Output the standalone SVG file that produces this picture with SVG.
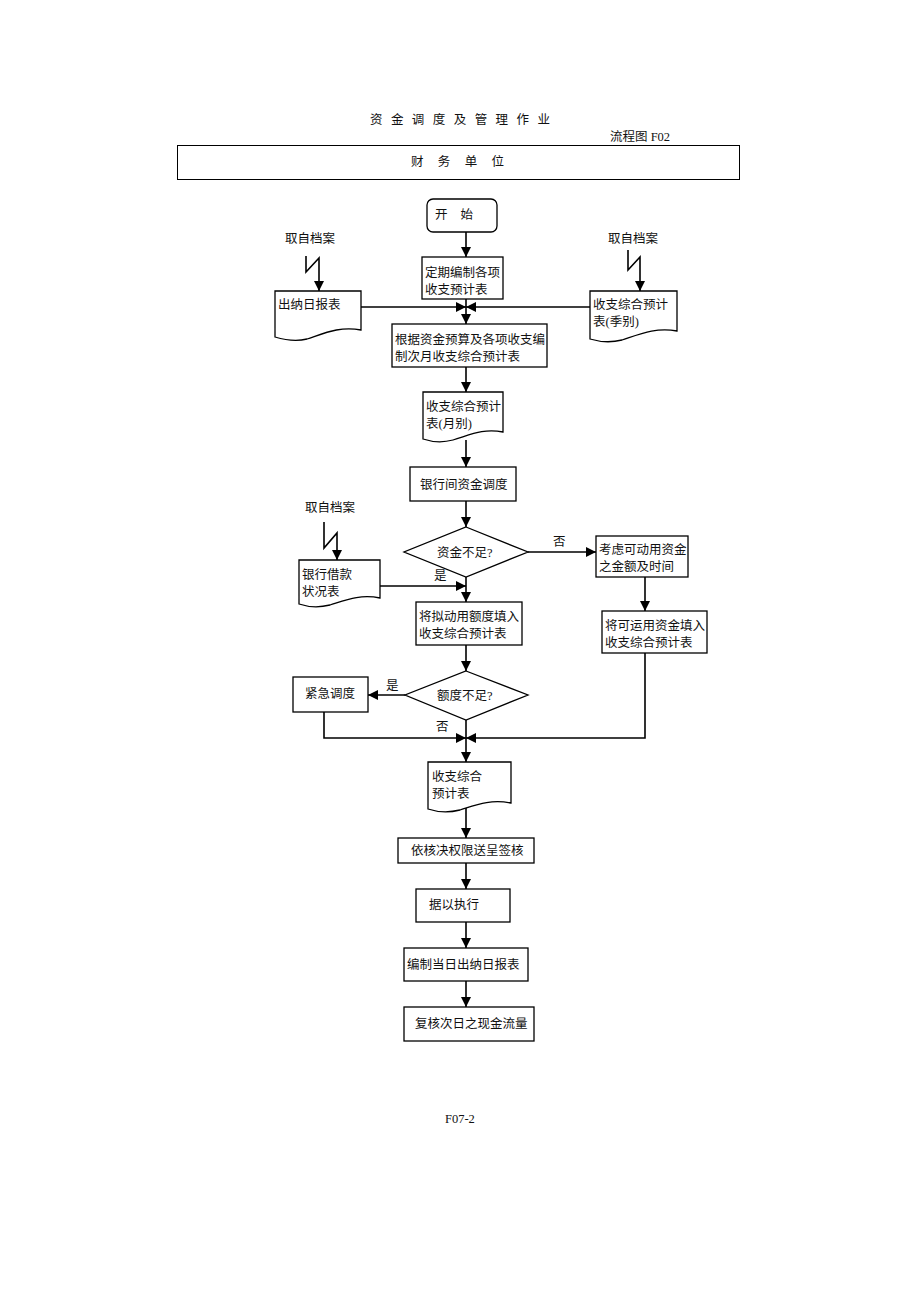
<svg xmlns="http://www.w3.org/2000/svg" width="920" height="1302" viewBox="0 0 920 1302">
<defs>
<marker id="ah" viewBox="0 0 10 10" refX="10" refY="5" markerWidth="10" markerHeight="10" markerUnits="userSpaceOnUse" orient="auto">
<path d="M0,0 L10,5 L0,10 z" fill="#000"/>
</marker>
</defs>
<style>
text{font-family:"Liberation Serif","Noto Sans CJK SC",serif;font-size:12.5px;fill:#111}
.b{fill:#fff;stroke:#000;stroke-width:1.3}
.c{fill:none;stroke:#000;stroke-width:1.6}
.a{marker-end:url(#ah)}
</style>
<rect width="920" height="1302" fill="#fff"/>
<g id="header">
<text x="370" y="124" textLength="180" lengthAdjust="spacing">资 金 调 度 及 管 理 作 业</text>
<text x="610" y="141">流程图 F02</text>
<rect x="177.5" y="145.5" width="562" height="34" fill="none" stroke="#000" stroke-width="1"/>
<text x="411" y="166" textLength="93" lengthAdjust="spacing">财 务 单 位</text>
</g>
<g id="start">
<rect class="b" x="427" y="199" width="70" height="33" rx="6"/>
<text x="435" y="219" textLength="38" lengthAdjust="spacing">开 始</text>
</g>
<g id="n1">
<rect class="b" x="422" y="257" width="81" height="42"/>
<text x="425" y="277">定期编制各项</text>
<text x="425" y="294">收支预计表</text>
</g>
<g id="src1"><text x="285" y="243">取自档案</text></g>
<g id="d1">
<path class="b" d="M275,291 H361 V330 C340,326 325,333 307,339 C295,342 285,340 275,337 Z"/>
<text x="278" y="309">出纳日报表</text>
</g>
<g id="src2"><text x="608" y="243">取自档案</text></g>
<g id="d2">
<path class="b" d="M590,291 H677 V331 C656,327 640,334 622,340 C610,343 600,342 590,339 Z"/>
<text x="593" y="309">收支综合预计</text>
<text x="593" y="326">表(季别)</text>
</g>
<g id="n2">
<rect class="b" x="392" y="324" width="155" height="43"/>
<text x="395" y="344">根据资金预算及各项收支编</text>
<text x="395" y="361">制次月收支综合预计表</text>
</g>
<g id="d3">
<path class="b" d="M423,392 H503 V432 C483,428 470,435 453,440 C442,443 432,442 423,439 Z"/>
<text x="426" y="411">收支综合预计</text>
<text x="426" y="428">表(月别)</text>
</g>
<g id="n3">
<rect class="b" x="410" y="467" width="106" height="34"/>
<text x="420" y="489">银行间资金调度</text>
</g>
<g id="q1">
<path class="b" d="M466,527 L528,552 L466,577 L404,552 Z"/>
<text x="437" y="557">资金不足?</text>
</g>
<g id="n4">
<rect class="b" x="596" y="536" width="92" height="41"/>
<text x="599" y="554">考虑可动用资金</text>
<text x="599" y="571">之金额及时间</text>
</g>
<g id="n5">
<rect class="b" x="602" y="611" width="105" height="42"/>
<text x="605" y="630">将可运用资金填入</text>
<text x="605" y="647">收支综合预计表</text>
</g>
<g id="src3"><text x="305" y="512">取自档案</text></g>
<g id="d4">
<path class="b" d="M299,560 H380 V598 C360,594 346,600 330,605 C318,608 308,607 299,604 Z"/>
<text x="302" y="579">银行借款</text>
<text x="302" y="596">状况表</text>
</g>
<g id="n6">
<rect class="b" x="416" y="602" width="106" height="43"/>
<text x="419" y="621">将拟动用额度填入</text>
<text x="419" y="638">收支综合预计表</text>
</g>
<g id="q2">
<path class="b" d="M466,671 L528,695 L466,720 L405,695 Z"/>
<text x="437" y="700">额度不足?</text>
</g>
<g id="n7">
<rect class="b" x="293" y="677" width="75" height="35"/>
<text x="305" y="698">紧急调度</text>
</g>
<g id="d5">
<path class="b" d="M428,762 H511 V803 C490,799 476,805 460,810 C448,813 437,812 428,809 Z"/>
<text x="432" y="781">收支综合</text>
<text x="432" y="798">预计表</text>
</g>
<g id="n8">
<rect class="b" x="398" y="838" width="136" height="25"/>
<text x="411" y="855">依核决权限送呈签核</text>
</g>
<g id="n9">
<rect class="b" x="416" y="889" width="94" height="33"/>
<text x="429" y="909">据以执行</text>
</g>
<g id="n10">
<rect class="b" x="404" y="948" width="124" height="33"/>
<text x="407" y="969">编制当日出纳日报表</text>
</g>
<g id="n11">
<rect class="b" x="404" y="1007" width="130" height="34"/>
<text x="415" y="1028">复核次日之现金流量</text>
</g>
<g id="footer"><text x="445" y="1123">F07-2</text></g>
<g id="connectors">
<path class="c a" d="M466,232 V257"/>
<path class="c a" d="M466,299 V324"/>
<path class="c a" d="M361,307 H466"/>
<path class="c a" d="M590,307 H466"/>
<path class="c a" d="M306,256 V272 L319,258 V291"/>
<path class="c a" d="M628,250 V270 L640,257 V291"/>
<path class="c a" d="M466,367 V392"/>
<path class="c a" d="M466,440 V467"/>
<path class="c a" d="M466,501 V527"/>
<path class="c a" d="M528,552 H596"/>
<path class="c a" d="M645,577 V611"/>
<path class="c a" d="M645,653 V738 H466"/>
<path class="c a" d="M324,522 V548 L337,533 V560"/>
<path class="c a" d="M380,586 H466"/>
<path class="c a" d="M466,577 V602"/>
<path class="c a" d="M466,645 V671"/>
<path class="c a" d="M405,695 H368"/>
<path class="c a" d="M324,712 V738 H466"/>
<path class="c a" d="M466,720 V762"/>
<path class="c a" d="M466,808 V838"/>
<path class="c a" d="M466,863 V889"/>
<path class="c a" d="M466,922 V948"/>
<path class="c a" d="M466,981 V1007"/>
<text x="553" y="546">否</text>
<text x="434" y="580">是</text>
<text x="386" y="690">是</text>
<text x="436" y="731">否</text>
</g>
</svg>
